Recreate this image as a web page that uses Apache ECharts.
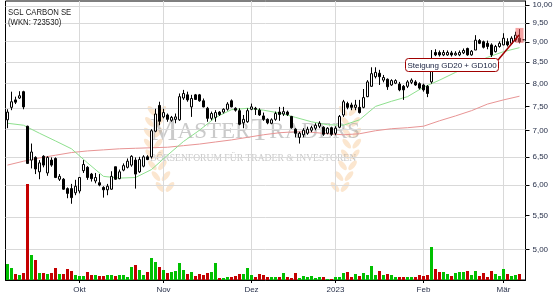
<!DOCTYPE html>
<html><head><meta charset="utf-8">
<script src="https://cdn.jsdelivr.net/npm/echarts@6/dist/echarts.min.js"></script>
<style>html,body{margin:0;padding:0;background:#fff}#c{width:555px;height:300px}</style>
</head><body><div id="c"></div>
<script>
const dates = [
'2022-09-07','2022-09-08','2022-09-09','2022-09-12','2022-09-13','2022-09-14','2022-09-15','2022-09-16','2022-09-19','2022-09-20','2022-09-21','2022-09-22','2022-09-23','2022-09-26','2022-09-27','2022-09-28','2022-09-29','2022-09-30',
'2022-10-03','2022-10-04','2022-10-05','2022-10-06','2022-10-07','2022-10-10','2022-10-11','2022-10-12','2022-10-13','2022-10-14','2022-10-17','2022-10-18','2022-10-19','2022-10-20','2022-10-21','2022-10-24','2022-10-25','2022-10-26','2022-10-27','2022-10-28','2022-10-31',
'2022-11-01','2022-11-02','2022-11-03','2022-11-04','2022-11-07','2022-11-08','2022-11-09','2022-11-10','2022-11-11','2022-11-14','2022-11-15','2022-11-16','2022-11-17','2022-11-18','2022-11-21','2022-11-22','2022-11-23','2022-11-24','2022-11-25','2022-11-28','2022-11-29','2022-11-30',
'2022-12-01','2022-12-02','2022-12-05','2022-12-06','2022-12-07','2022-12-08','2022-12-09','2022-12-12','2022-12-13','2022-12-14','2022-12-15','2022-12-16','2022-12-19','2022-12-20','2022-12-21','2022-12-22','2022-12-23','2022-12-27','2022-12-28','2022-12-29','2022-12-30',
'2023-01-02','2023-01-03','2023-01-04','2023-01-05','2023-01-06','2023-01-09','2023-01-10','2023-01-11','2023-01-12','2023-01-13','2023-01-16','2023-01-17','2023-01-18','2023-01-19','2023-01-20','2023-01-23','2023-01-24','2023-01-25','2023-01-26','2023-01-27','2023-01-30','2023-01-31',
'2023-02-01','2023-02-02','2023-02-03','2023-02-06','2023-02-07','2023-02-08','2023-02-09','2023-02-10','2023-02-13','2023-02-14','2023-02-15','2023-02-16','2023-02-17','2023-02-20','2023-02-21','2023-02-22','2023-02-23','2023-02-24','2023-02-27','2023-02-28',
'2023-03-01','2023-03-02','2023-03-03','2023-03-06','2023-03-07','2023-03-08'];

const opens = [7.22,7.48,7.64,7.68,7.82,7.09,6.44,6.49,6.23,6.51,
6.21,6.44,6.47,6.10,6.10,5.94,5.94,5.87,5.90,6.25,
6.31,6.19,6.07,6.04,5.96,5.92,5.93,6.32,6.11,6.26,
6.31,6.35,6.44,6.23,6.33,6.50,6.50,6.99,7.52,7.28,
7.32,7.21,7.23,7.22,7.68,7.75,7.49,7.75,7.75,7.62,
7.46,7.25,7.27,7.38,7.38,7.44,7.62,7.46,7.41,7.16,
7.18,7.44,7.46,7.42,7.30,7.23,7.15,7.23,7.38,7.34,
7.38,7.29,7.03,6.87,6.92,6.95,7.01,7.05,7.09,7.07,
6.95,7.06,6.95,7.07,7.32,7.56,7.53,7.48,7.48,7.48,
7.71,7.94,8.16,8.24,8.08,8.10,7.97,8.01,7.99,7.94,
7.94,8.03,8.04,8.00,7.97,7.94,8.04,8.74,8.74,8.68,
8.68,8.73,8.68,8.68,8.73,8.84,8.68,8.80,9.04,9.01,
8.97,8.93,8.76,8.89,8.93,9.01,8.97,9.05,9.10,9.06];
const closes = [7.38,7.60,7.59,7.73,7.49,6.38,6.59,6.28,6.39,6.35,
6.49,6.35,6.13,6.15,5.93,5.86,5.79,5.98,6.13,6.36,
6.13,6.11,6.13,6.00,5.92,5.98,6.15,6.10,6.23,6.34,
6.42,6.51,6.19,6.45,6.50,6.45,7.00,7.34,7.19,7.37,
7.23,7.27,7.28,7.71,7.78,7.64,7.67,7.65,7.62,7.49,
7.25,7.35,7.37,7.33,7.44,7.55,7.49,7.42,7.13,7.23,
7.41,7.49,7.44,7.32,7.23,7.16,7.22,7.35,7.33,7.39,
7.33,7.06,6.95,6.95,7.01,7.03,7.06,7.11,7.15,6.93,
7.05,6.93,7.05,7.29,7.60,7.48,7.48,7.53,7.37,7.69,
8.04,8.23,8.26,8.16,8.14,7.93,8.07,8.07,7.86,7.86,
8.04,8.08,7.97,7.90,7.86,7.78,8.45,8.68,8.68,8.74,
8.74,8.68,8.72,8.74,8.79,8.68,8.77,9.05,8.97,8.87,
8.89,8.68,8.89,8.97,9.10,8.93,9.10,9.18,9.01,9.06];
const lows = [7.05,7.42,7.55,7.66,7.44,6.37,6.29,6.19,6.10,6.31,
6.16,6.32,6.12,6.07,5.92,5.78,5.69,5.83,5.86,6.21,
6.09,6.06,6.03,5.98,5.79,5.83,5.92,6.09,6.10,6.24,
6.29,6.32,5.94,6.21,6.31,6.44,6.47,6.97,7.11,7.25,
7.18,7.18,7.15,7.20,7.64,7.60,7.28,7.64,7.60,7.48,
7.18,7.21,7.18,7.30,7.35,7.41,7.48,7.39,7.11,7.05,
7.16,7.42,7.32,7.30,7.20,7.13,7.13,7.20,7.20,7.30,
7.30,7.04,6.87,6.75,6.87,6.92,6.97,7.01,7.05,6.90,
6.93,6.90,6.91,7.05,7.28,7.44,7.42,7.42,7.35,7.46,
7.70,7.93,8.12,7.97,8.03,7.86,7.95,7.99,7.83,7.64,
7.90,7.99,7.95,7.87,7.82,7.70,8.00,8.65,8.64,8.65,
8.66,8.64,8.66,8.65,8.70,8.66,8.66,8.80,8.95,8.84,
8.82,8.63,8.74,8.86,8.92,8.89,8.95,9.01,8.97,9.06];
const highs = [7.44,7.82,7.71,7.83,7.84,7.10,6.75,6.51,6.44,6.53,
6.51,6.49,6.49,6.19,6.12,5.96,6.02,6.09,6.14,6.44,
6.33,6.21,6.21,6.19,5.98,6.02,6.24,6.32,6.27,6.38,
6.47,6.53,6.49,6.50,6.53,6.53,7.03,7.45,7.60,7.45,
7.35,7.30,7.35,7.78,7.86,7.82,7.75,7.77,7.77,7.67,
7.49,7.39,7.42,7.40,7.46,7.59,7.65,7.48,7.46,7.32,
7.46,7.56,7.49,7.46,7.37,7.25,7.25,7.39,7.49,7.49,
7.41,7.30,7.05,6.98,7.05,7.08,7.10,7.15,7.19,7.09,
7.07,7.08,7.09,7.32,7.64,7.60,7.58,7.64,7.64,7.88,
8.08,8.38,8.38,8.32,8.20,8.12,8.10,8.10,8.04,7.97,
8.08,8.12,8.08,8.03,8.00,7.97,8.80,8.82,8.79,8.80,
8.79,8.78,8.77,8.79,8.84,8.86,8.80,9.18,9.08,9.04,
9.04,8.97,8.93,9.02,9.23,9.10,9.15,9.27,9.34,9.06];
// volume in thousand shares
const volumes = [160,120,60,50,70,960,250,200,70,70,
60,70,120,60,60,110,90,50,40,40,
80,50,50,40,40,50,50,40,50,50,
30,130,150,100,50,80,220,180,130,100,
70,80,90,170,100,60,80,40,60,50,
70,80,170,20,20,30,30,40,60,60,
120,50,30,60,50,30,30,30,30,70,
30,20,70,20,40,30,40,20,30,30,
10,10,30,30,70,80,30,60,40,70,
50,140,50,90,50,60,50,30,30,30,
30,30,30,50,40,50,330,110,80,80,
60,40,70,80,80,90,50,90,40,70,
30,90,60,40,110,60,40,50,60,null];
// moving averages read every 4th session
const maIndex = [0,4,8,12,16,20,24,28,32,36,40,44,48,52,56,60,64,68,72,76,80,84,88,92,96,100,104,108,112,116,120,124,128];
const gd20 = [7.15,7.11,6.95,6.80,6.65,6.39,6.15,6.12,6.13,6.27,6.53,6.79,7.01,7.27,7.43,7.46,7.42,7.36,7.27,7.18,7.12,7.11,7.22,7.50,7.61,7.71,7.92,8.08,8.26,8.45,8.62,8.76,8.86];
const gd100 = [6.35,6.42,6.48,6.53,6.58,6.61,6.63,6.65,6.66,6.67,6.68,6.71,6.74,6.78,6.82,6.87,6.92,6.96,6.98,6.97,6.94,6.92,6.94,7.00,7.04,7.06,7.09,7.20,7.30,7.41,7.55,7.64,7.72];
const priceTicks = [5,5.5,6,6.5,7,7.5,8,8.5,9,9.5,10];
const tickDates = ['2022-10-03','2022-11-01','2022-12-01','2023-01-02','2023-02-01','2023-03-01'];
const tickLabels = ['Okt','Nov','Dez','2023','Feb','Mär'];
const title1 = 'SGL CARBON SE', title2 = '(WKN: 723530)';
const noteText = 'Steigung GD20 + GD100';

const LN = Math.log;
const candleData = dates.map((d,i)=>[LN(opens[i]),LN(closes[i]),LN(lows[i]),LN(highs[i])]);
const volData = volumes.map((v,i)=> v==null ? '-' : {value:v, itemStyle:{color: closes[i]>=opens[i] ? '#00c000' : '#c40000'}});
function maSeries(vals){ const a = dates.map(()=>null); maIndex.forEach((k,j)=>{a[k]=LN(vals[j]);}); return a; }
const lnTicks = priceTicks.map(LN);
const isTick = (idx)=> tickDates.indexOf(dates[idx])>=0;
const labelColor = '#27304a';
const wmColor = 'rgba(150,150,150,0.5)';

// decorative laurel leaves for the watermark
function laurel(xBase, dir){
  const els=[];
  for(let k=0;k<8;k++){
    const t=k/7;
    const sx = xBase + dir*(12*Math.sin(t*2.4));
    const sy = 190 - t*76;
    [-1,1].forEach(s=>{
      els.push({type:'ellipse', shape:{cx:sx + s*5, cy:sy-3, rx:2.6, ry:6}, rotation: -s*0.7,
        originX:sx+s*5, originY:sy-3, style:{fill:'rgba(246,196,140,0.42)'}, z:0, silent:true});
    });
  }
  return els;
}

const chart = echarts.init(document.getElementById('c'), null, {renderer:'canvas'});
chart.setOption({
  animation:false,
  backgroundColor:'#fff',
  grid:{left:5.5,right:29.5,top:1,bottom:20,show:true,borderColor:'#000',borderWidth:1,backgroundColor:'transparent',containLabel:false,outerBoundsMode:'none'},
  xAxis:{type:'category',data:dates,boundaryGap:true,
    axisLine:{show:true,lineStyle:{color:'#000',width:1}},
    axisTick:{show:true,alignWithLabel:true,interval:(i)=>isTick(i),length:3,lineStyle:{color:'#000'}},
    axisLabel:{interval:(i)=>isTick(i),formatter:(v)=>tickLabels[tickDates.indexOf(v)]||'',fontSize:8,fontFamily:'Liberation Sans',color:labelColor,margin:6},
    splitLine:{show:false}},
  yAxis:[
    {type:'value',position:'right',min:1.52244,max:2.31393,scale:true,
     axisLine:{show:true,lineStyle:{color:'#000'}},
     axisTick:{show:true,length:4,customValues:lnTicks,lineStyle:{color:'#000'}},
     axisLabel:{customValues:lnTicks,formatter:(v)=>Math.exp(v).toFixed(2).replace('.',','),fontSize:8,fontFamily:'Liberation Sans',color:labelColor,margin:7},
     splitLine:{show:false}},
    {type:'value',min:0,max:2790,show:false,splitLine:{show:false}}
  ],
  graphic:[
    ...laurel(165,-1), ...laurel(340,1),
    {type:'text',left:150,top:116,z:0,silent:true,style:{text:'{b|M}{s|ASTER}{b|T}{s|RADERS}',fill:wmColor,rich:{b:{fontSize:31,fontFamily:'Liberation Serif',fill:wmColor},s:{fontSize:23,fontFamily:'Liberation Serif',fill:wmColor}}}},
    {type:'text',left:150,top:153,z:0,silent:true,style:{text:'BÖRSENFORUM FÜR TRADER & INVESTOREN',fontSize:9.6,fontFamily:'Liberation Serif',fill:wmColor}},
    {type:'text',x:8,y:8,z:20,style:{text:title1,fontSize:9,fontFamily:'Liberation Sans',fill:'#1a1a1a'},scaleX:0.86},
    {type:'text',x:8,y:18,z:20,style:{text:title2,fontSize:9,fontFamily:'Liberation Sans',fill:'#1a1a1a'},scaleX:0.86},
    {type:'line',z:30,shape:{x1:498,y1:60,x2:519,y2:35},style:{stroke:'#a00000',lineWidth:1.5}},
    {type:'rect',z:31,shape:{x:405.5,y:58.5,width:93,height:13,r:3},style:{fill:'#fff',stroke:'#a00000',lineWidth:1}},
    {type:'text',z:32,x:452,y:65.5,style:{text:noteText,fontSize:8,fontFamily:'Liberation Sans',fill:'#1a2240',align:'center',verticalAlign:'middle'}}
  ],
  series:[
    {type:'line',data:dates.map(()=>null),yAxisIndex:0,z:1,symbol:'none',silent:true,
     markLine:{z:1,silent:true,symbol:['none','none'],label:{show:false},animation:false,
       lineStyle:{color:'#d9d9d9',type:'solid',width:1},
       data:[...lnTicks.map(v=>({yAxis:v})), ...tickDates.map(d=>({xAxis:d}))]}},
    {type:'bar',data:volData,yAxisIndex:1,barWidth:3,z:2,silent:true},
    {type:'line',data:maSeries(gd100),connectNulls:true,symbol:'none',z:3,lineStyle:{color:'#e89494',width:1},silent:true},
    {type:'line',data:maSeries(gd20),connectNulls:true,symbol:'none',z:3,lineStyle:{color:'#8ee08e',width:1},silent:true},
    {type:'candlestick',data:candleData,yAxisIndex:0,barWidth:3,z:4,
     itemStyle:{color:'#fff',color0:'#000',borderColor:'#000',borderColor0:'#000',borderWidth:1},
     markArea:{silent:true,z:5,itemStyle:{color:'rgba(238,90,90,0.55)'},
       data:[[{xAxis:dates[127],yAxis:LN(9.37)},{xAxis:dates[129],yAxis:LN(8.98)}]]}}
  ]
});
</script></body></html>
